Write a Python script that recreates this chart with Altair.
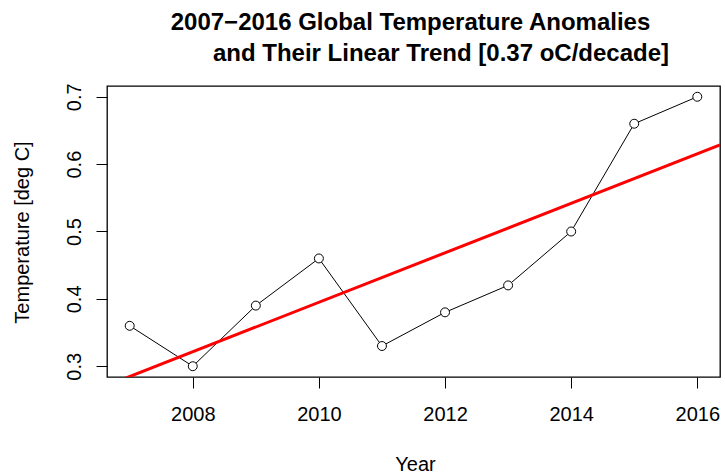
import altair as alt
import numpy as np
import pandas as pd

# Annual global temperature anomalies, 2007-2016
years = [2007, 2008, 2009, 2010, 2011, 2012, 2013, 2014, 2015, 2016]
anomalies = [0.36, 0.30, 0.39, 0.46, 0.33, 0.38, 0.42, 0.50, 0.66, 0.70]

x_ticks = [2008, 2010, 2012, 2014, 2016]
y_ticks = [0.3, 0.4, 0.5, 0.6, 0.7]

title_line1 = "2007\u22122016 Global Temperature Anomalies"
title_line2 = "and Their Linear Trend [0.37 oC/decade]"

FONT = "Liberation Sans"

df = pd.DataFrame({"Year": years, "Temp": anomalies})

# R-style 4% padding around the data range
x_pad = 0.04 * (max(years) - min(years))
y_pad = 0.04 * (max(anomalies) - min(anomalies))
x_dom = [min(years) - x_pad, max(years) + x_pad]
y_dom = [min(anomalies) - y_pad, max(anomalies) + y_pad]

# least-squares trend, drawn across the full x range
slope, intercept = np.polyfit(years, anomalies, 1)
trend = pd.DataFrame({"Year": x_dom, "Temp": [intercept + slope * v for v in x_dom]})

x_scale = alt.Scale(domain=x_dom, nice=False, zero=False)
y_scale = alt.Scale(domain=y_dom, nice=False, zero=False)

x_enc = alt.X(
    "Year:Q", scale=x_scale,
    axis=alt.Axis(
        values=x_ticks, format="d", title="Year", domain=False, grid=False,
        tickSize=11, tickColor="#000000", labelPadding=16, labelFontSize=20,
        labelFont=FONT, labelColor="#000000",
        titleFont=FONT, titleFontSize=20, titleFontWeight="normal", titleColor="#000000",
        titleX=308, titleY=93, titleBaseline="alphabetic", titleAnchor="middle",
    ),
)
y_enc = alt.Y(
    "Temp:Q", scale=y_scale,
    axis=alt.Axis(
        values=y_ticks, format=".1f", title="Temperature [deg C]", domain=False, grid=False,
        tickSize=11, tickColor="#000000", labelPadding=16, labelFontSize=20,
        labelFont=FONT, labelColor="#000000", labelAngle=-90,
        labelAlign="center", labelBaseline="alphabetic",
        titleFont=FONT, titleFontSize=20, titleFontWeight="normal", titleColor="#000000",
        titleX=-79, titleY=146, titleBaseline="alphabetic", titleAngle=-90,
    ),
)

series = alt.Chart(df).mark_line(color="#000000", strokeWidth=1).encode(x=x_enc, y=y_enc)
points = alt.Chart(df).mark_point(
    shape="circle", size=80, filled=False, fill="#ffffff", fillOpacity=1,
    stroke="#000000", strokeWidth=1, opacity=1,
).encode(x="Year:Q", y="Temp:Q")
trend_line = alt.Chart(trend).mark_line(color="#ff0000", strokeWidth=3, clip=True).encode(
    x="Year:Q", y="Temp:Q"
)

one_row = pd.DataFrame({"k": [0]})
t1 = alt.Chart(one_row).mark_text(
    font=FONT, fontSize=24, fontWeight="bold", color="#000000",
    align="center", baseline="alphabetic",
).encode(x=alt.value(303.5), y=alt.value(-56), text=alt.value(title_line1))
t2 = alt.Chart(one_row).mark_text(
    font=FONT, fontSize=24, fontWeight="bold", color="#000000",
    align="center", baseline="alphabetic",
).encode(x=alt.value(334), y=alt.value(-25.5), text=alt.value(title_line2))

chart = (
    alt.layer(series, points, trend_line, t1, t2)
    .properties(
        width=613, height=291,
        autosize=alt.AutoSizeParams(type="none"),
        padding={"left": 107, "top": 86, "right": 5, "bottom": 98},
        background="#ffffff",
    )
    .configure_view(stroke="#000000", strokeWidth=1.3)
)

chart.save("out.html", embed_options={"renderer": "svg", "actions": False})
